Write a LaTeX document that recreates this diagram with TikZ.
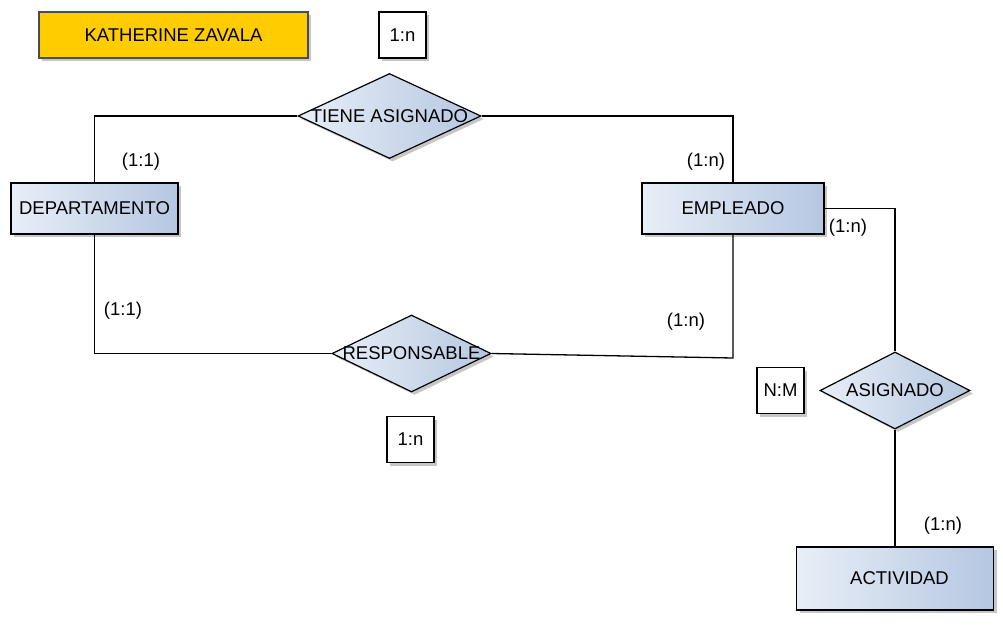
\documentclass[tikz,border=0pt]{standalone}
\usepackage{fontspec}
\setmainfont{Liberation Sans}
\usepackage{xcolor}
\usepackage{tikz}
\usetikzlibrary{shapes.geometric, shadows}

\definecolor{entleft}{HTML}{E8EEF7}
\definecolor{entright}{HTML}{B5C7E1}
\definecolor{titlegold}{HTML}{FFCC00}

\begin{document}
\begin{tikzpicture}[
  x=1pt, y=-1pt,
  font=\fontsize{18.5}{22}\selectfont,
  softshadow/.style={
    drop shadow={shadow xshift=3pt, shadow yshift=-3pt, opacity=0.22, fill=black}
  },
  entity/.style={
    rectangle, draw=black, line width=1.2pt, inner sep=0pt,
    left color=entleft, right color=entright, softshadow
  },
  relation/.style={
    diamond, draw=black, line width=1.2pt, inner sep=0pt,
    left color=entleft, right color=entright, softshadow
  },
  cardbox/.style={
    rectangle, draw=black, line width=1.2pt, fill=white, inner sep=0pt,
    minimum width=47pt, minimum height=46pt, softshadow
  },
  titlebox/.style={
    rectangle, draw=black!70, line width=1.2pt, fill=titlegold, inner sep=0pt,
    minimum width=269pt, minimum height=46pt, softshadow
  },
  card/.style={inner sep=0pt},
  link/.style={draw=black, line width=1.3pt}
]
\useasboundingbox (0,0) rectangle (1003,626);

% header
\node[titlebox] (title) at (173.5,35) {KATHERINE ZAVALA};
\node[cardbox] (c1) at (402.5,35) {1:n};

% entities
\node[entity, minimum width=167pt, minimum height=51pt] (dep) at (94.5,208.5) {DEPARTAMENTO};
\node[entity, minimum width=182pt, minimum height=51pt] (emp) at (733,208.5) {EMPLEADO};
\node[entity, minimum width=197pt, minimum height=63pt] (act) at (895,578.5) {\hspace{9pt}ACTIVIDAD};

% relations
\node[relation, minimum width=183pt, minimum height=85pt] (tiene) at (389.5,116)
  {\makebox[0pt]{TIENE ASIGNADO}};
\node[relation, minimum width=159pt, minimum height=77pt] (resp) at (411.5,353.5)
  {\makebox[0pt]{RESPONSABLE}};
\node[relation, minimum width=150pt, minimum height=77pt] (asig) at (895,390.5)
  {\makebox[0pt]{ASIGNADO}};

\node[cardbox] (c2) at (410.5,439.5) {1:n};
\node[cardbox] (c3) at (780.5,390.5) {N:M};

% connectors
\coordinate (rk) at (733,358);
\draw[link] (dep.north) |- (tiene.west);
\draw[link] (tiene.east) -| (emp.north);
\draw[link] (dep.south) |- (resp.west);
\draw[link] (resp.east) -- (rk) -- (emp.south);
\draw[link] (emp.east) -| (asig.north);
\draw[link] (asig.south) -- (act.north);

% cardinalities
\node[card] (k1) at (141,162) {(1:1)};
\node[card] (k2) at (706,162) {(1:n)};
\node[card] (k3) at (123,311) {(1:1)};
\node[card] (k4) at (686,322) {(1:n)};
\node[card] (k5) at (848,228) {(1:n)};
\node[card] (k6) at (943,526) {(1:n)};
\end{tikzpicture}
\end{document}
